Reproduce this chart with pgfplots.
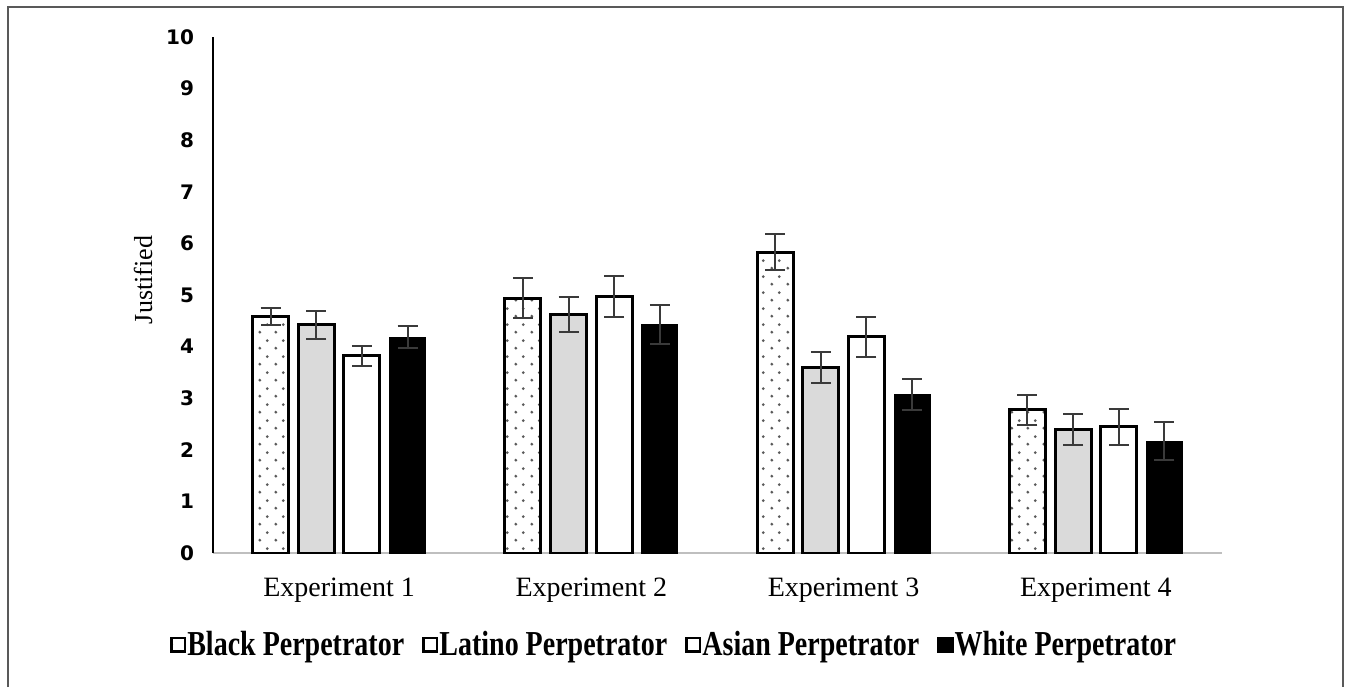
\documentclass[border=0pt]{standalone}
\usepackage{pgfplots}
\pgfplotsset{compat=1.18}
\usepackage{pgfplotstable}
\usepackage{fontspec}
\setmainfont{Liberation Serif}
\newfontfamily\tickfont{DejaVu Sans}
\usetikzlibrary{patterns.meta}

\tikzdeclarepattern{
  name=sparsedots, type=uncolored,
  bounding box={(0pt,0pt) and (8pt,8pt)},
  tile size={(8pt,8pt)},
  code={
    \fill (2pt,2pt) circle (0.8pt);
    \fill (6pt,6pt) circle (0.8pt);
  }
}

\definecolor{barGray}{HTML}{DADADA}
\definecolor{errGray}{HTML}{3A3A3A}
\definecolor{axGray}{HTML}{BFBFBF}
\definecolor{dotGray}{HTML}{5A5A5A}

% x = experiment index, y = mean, e = error
\pgfplotstableread{
x y e
0 4.58 0.17
1 4.94 0.38
2 5.83 0.35
3 2.78 0.29
}\tblack
\pgfplotstableread{
x y e
0 4.42 0.27
1 4.63 0.34
2 3.60 0.30
3 2.39 0.30
}\tlatino
\pgfplotstableread{
x y e
0 3.82 0.20
1 4.97 0.40
2 4.19 0.39
3 2.45 0.35
}\tasian
\pgfplotstableread{
x y e
0 4.18 0.21
1 4.43 0.37
2 3.08 0.30
3 2.17 0.36
}\twhite

\newcommand\legtxt[1]{\scalebox{1}[1.25]{#1}}

\begin{document}
\begin{tikzpicture}
\useasboundingbox (-106.5pt,-67pt) rectangle (566pt,276.5pt);
\begin{axis}[
  at={(0pt,0pt)}, anchor=south west,
  scale only axis,
  width=504.5pt, height=258pt,
  xmin=-0.5, xmax=3.5,
  ymin=0, ymax=10,
  ytick={0,1,...,10},
  xtick={0,1,2,3},
  xticklabels={Experiment 1,Experiment 2,Experiment 3,Experiment 4},
  major tick length=0pt,
  axis x line*=bottom,
  axis y line*=left,
  x axis line style={-, draw=axGray, line width=0.8pt},
  y axis line style={-, draw=black, line width=1.3pt},
  /pgf/number format/assume math mode=true,
  yticklabel style={font=\tickfont\bfseries\fontsize{10}{11}\selectfont, xshift=-6pt},
  xticklabel style={font=\fontsize{14}{16}\selectfont, yshift=-9pt},
  ylabel={Justified},
  every axis y label/.style={at={(axis description cs:-0.0694,0.529)}, rotate=90, anchor=center, font=\fontsize{13}{14}\selectfont},
  ybar, bar width=0.143,
  error bars/y dir=both, error bars/y explicit,
  error bars/error bar style={draw=errGray, line width=1pt},
  error bars/error mark options={rotate=90, mark size=5pt, draw=errGray, line width=1pt},
  legend columns=4,
  legend style={at={(axis description cs:0.458,-0.178)}, anchor=center, draw=none,
    font=\bfseries\fontsize{14}{16}\selectfont,
    /tikz/every even column/.append style={column sep=7pt},
    /tikz/every odd column/.append style={column sep=-1.5pt}},
]
\addplot[bar shift=-0.2715, draw=black, line width=1.5pt, fill=white,
  postaction={pattern=sparsedots, pattern color=dotGray},
  legend image code/.code={\draw[line width=1.3pt, fill=white] (0pt,-3.4pt) rectangle (6.8pt,3.4pt);}]
  table[x=x, y=y, y error=e] {\tblack};
\addplot[bar shift=-0.0905, draw=black, line width=1.5pt, fill=barGray,
  legend image code/.code={\draw[line width=1.3pt, fill=white] (0pt,-3.4pt) rectangle (6.8pt,3.4pt);}]
  table[x=x, y=y, y error=e] {\tlatino};
\addplot[bar shift=0.0905, draw=black, line width=1.5pt, fill=white,
  legend image code/.code={\draw[line width=1.3pt, fill=white] (0pt,-3.4pt) rectangle (6.8pt,3.4pt);}]
  table[x=x, y=y, y error=e] {\tasian};
\addplot[bar shift=0.2715, draw=black, line width=0.4pt, fill=black,
  legend image code/.code={\draw[line width=1.3pt, fill=black] (0pt,-3.4pt) rectangle (6.8pt,3.4pt);}]
  table[x=x, y=y, y error=e] {\twhite};
\legend{\legtxt{Black Perpetrator},\legtxt{Latino Perpetrator},\legtxt{Asian Perpetrator},\legtxt{White Perpetrator}}
\end{axis}
\draw[draw=black!65, line width=0.7pt] (-102.5pt,-67pt) -- (-102.5pt,273pt) -- (565pt,273pt) -- (565pt,-67pt);
\end{tikzpicture}
\end{document}
